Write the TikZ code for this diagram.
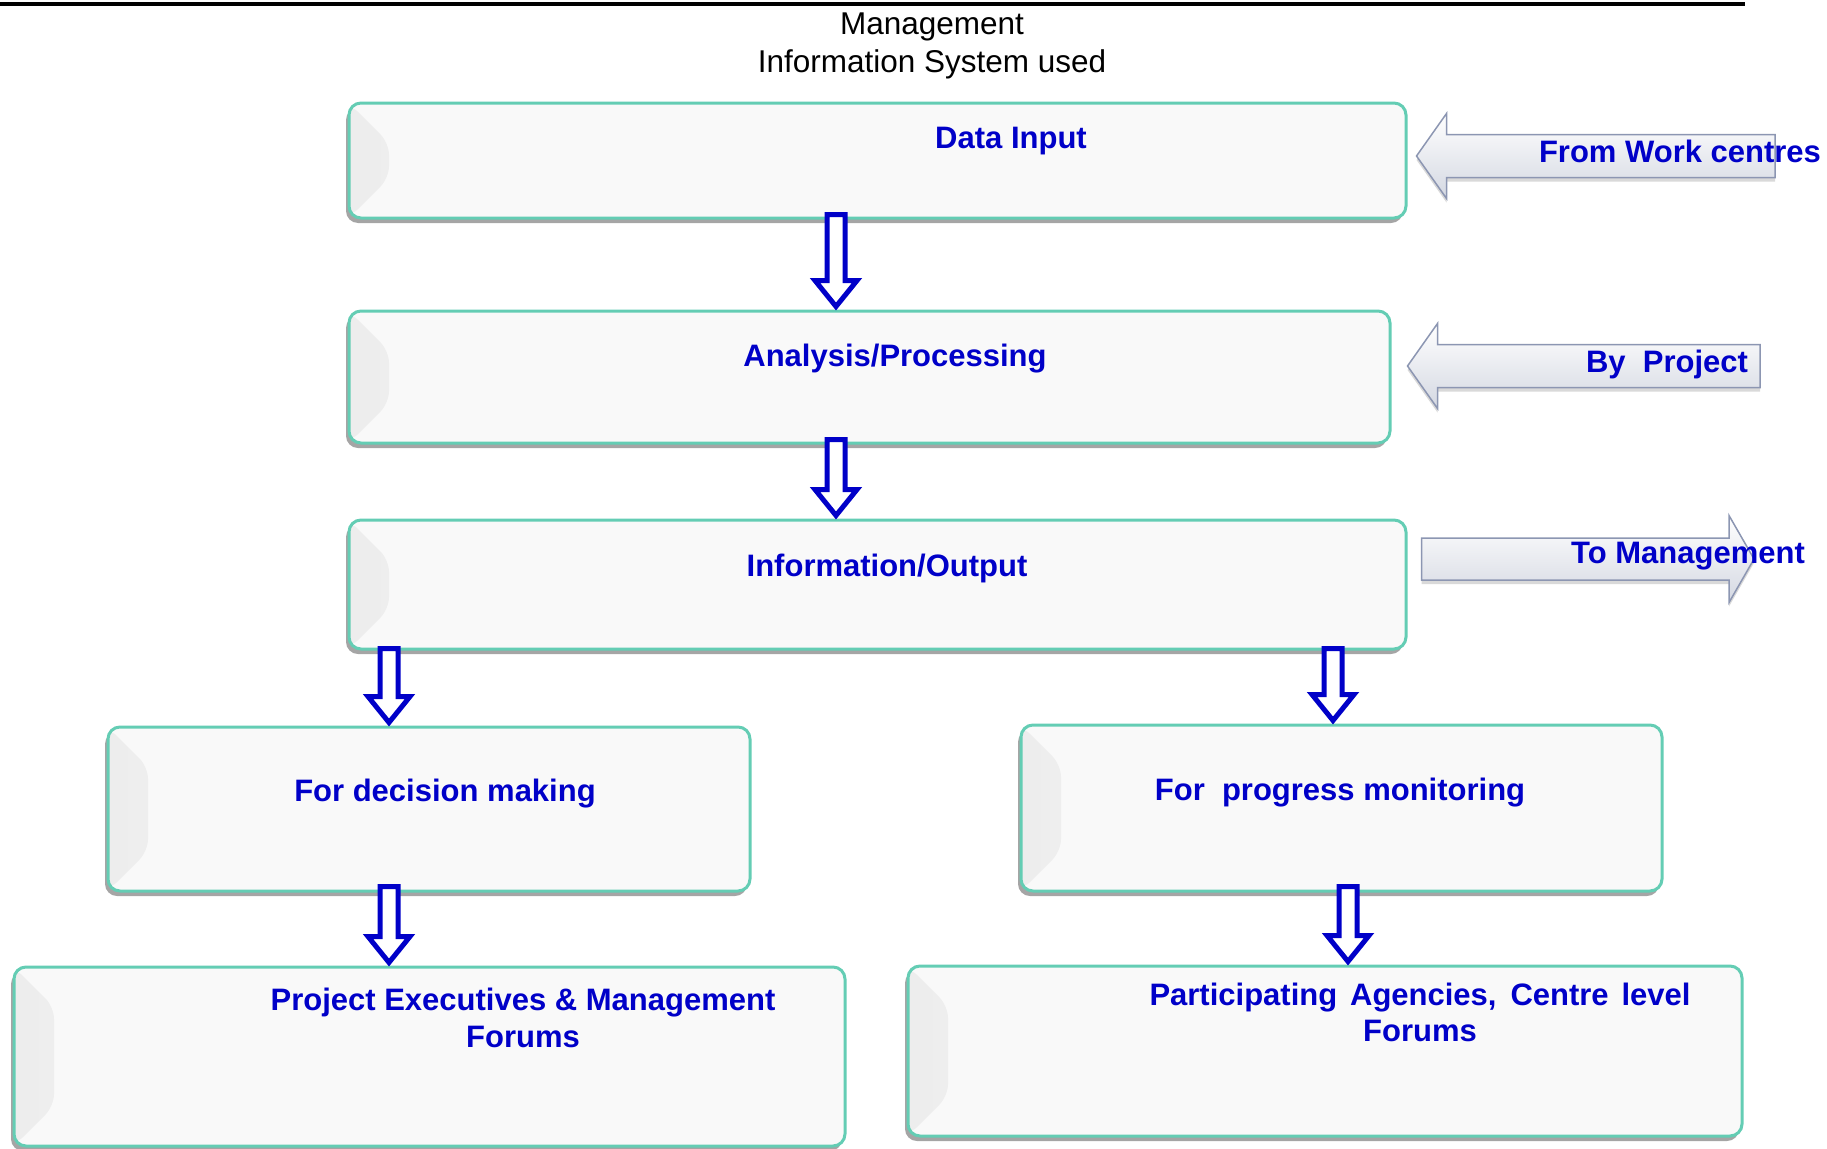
\documentclass[tikz,border=0pt]{standalone}
\usepackage{fontspec}
\setmainfont{Liberation Sans}
\usetikzlibrary{calc}
\usetikzlibrary{shadows}

\begin{document}
\begin{tikzpicture}[x=1pt,y=-1pt,
    box/.style={
      rounded corners=12pt,
      draw=tgreen,
      line width=3pt,
      fill=boxfill,
      inner sep=0pt,
      drop shadow={shadow xshift=-3pt,shadow yshift=-5pt,opacity=.5,fill=black!70},
      path picture={\shade[left color=black!7,right color=boxfill] (path picture bounding box.south west) -- (path picture bounding box.north west) -- ([xshift=40pt,yshift=-40pt]path picture bounding box.north west) -- ([xshift=40pt,yshift=40pt]path picture bounding box.south west) -- cycle;}
    },
    lbl/.style={text=mblue,font=\fontsize{31}{37}\selectfont\bfseries,inner sep=0pt,anchor=base},
    down/.style={draw=mblue,line width=5pt,fill=white,
      to path={($(\tikztostart)+(-9,0)$) -- ($(\tikztotarget)+(-9,-26)$) -- ($(\tikztotarget)+(-21,-26)$) -- (\tikztotarget) -- ($(\tikztotarget)+(21,-26)$) -- ($(\tikztotarget)+(9,-26)$) -- ($(\tikztostart)+(9,0)$) -- cycle}},
    side/.style={draw=sgray,line width=1.5pt,top color=white,bottom color=sfill,
      drop shadow={shadow xshift=0pt,shadow yshift=-4pt,opacity=.25,fill=black!60}},
    leftblock/.style={side,
      to path={($(\tikztostart)+(0,-21.5)$) -- ($(\tikztotarget)+(30,-21.5)$) -- ($(\tikztotarget)+(30,-42.5)$) -- (\tikztotarget) -- ($(\tikztotarget)+(30,42.5)$) -- ($(\tikztotarget)+(30,21.5)$) -- ($(\tikztostart)+(0,21.5)$) -- cycle}},
    rightblock/.style={side,
      to path={($(\tikztostart)+(0,-21)$) -- ($(\tikztotarget)+(-25,-21)$) -- ($(\tikztotarget)+(-25,-43.5)$) -- (\tikztotarget) -- ($(\tikztotarget)+(-25,43.5)$) -- ($(\tikztotarget)+(-25,21)$) -- ($(\tikztostart)+(0,21)$) -- cycle}}
  ]

\definecolor{mblue}{RGB}{0,0,200}
\definecolor{tgreen}{RGB}{100,205,180}
\definecolor{boxfill}{RGB}{249,249,249}
\definecolor{sgray}{RGB}{140,150,178}
\definecolor{sfill}{RGB}{212,216,226}

\useasboundingbox (0,0) rectangle (1827,1148);

\draw[line width=3.5pt] (0,4) -- (1745,4);
\node[font=\fontsize{31.5}{38}\selectfont,align=center,inner sep=0pt] (title) at (932,46) {Management\\Information System used};

\node[box,minimum width=1057pt,minimum height=115pt] (din) at (877.5,160.5) {};
\node[box,minimum width=1041pt,minimum height=132pt] (ana) at (869.5,377) {};
\node[box,minimum width=1057pt,minimum height=129pt] (iout) at (877.5,584.5) {};
\node[box,minimum width=642pt,minimum height=164pt] (dec) at (429,809) {};
\node[box,minimum width=641pt,minimum height=166pt] (mon) at (1341.5,808) {};
\node[box,minimum width=831pt,minimum height=179pt] (pex) at (429.5,1056.5) {};
\node[box,minimum width=834pt,minimum height=170pt] (pag) at (1325,1051) {};

\node[lbl] (dinT) at (1011,148) {Data Input};
\node[lbl] (anaT) at (895,366) {Analysis/Processing};
\node[lbl] (ioutT) at (887,576) {Information/Output};
\node[lbl] (decT) at (445,801) {For decision making};
\node[lbl] (monT) at (1340,800) {For\ \ progress monitoring};
\node[lbl,anchor=center,align=center] (pexT) at (523,1018) {Project Executives \& Management\\Forums};
\node[lbl,anchor=center,align=center,font=\fontsize{31}{36}\selectfont\bfseries] (pagT) at (1420,1012) {\makebox[541pt][s]{Participating Agencies, Centre level}\\Forums};

\draw[down] ([xshift=-41.5pt,yshift=5pt]din.south) to ([xshift=-33.5pt,yshift=3pt]ana.north);
\draw[down] ([xshift=-33.5pt,yshift=5pt]ana.south) to ([xshift=-41.5pt,yshift=3pt]iout.north);
\draw[down] ([xshift=-488.5pt,yshift=2pt]iout.south) to ([xshift=-40pt,yshift=3pt]dec.north);
\draw[down] ([xshift=455.5pt,yshift=2pt]iout.south) to ([xshift=-8.5pt,yshift=3pt]mon.north);
\draw[down] ([xshift=-40pt,yshift=6pt]dec.south) to ([xshift=-40.5pt,yshift=3pt]pex.north);
\draw[down] ([xshift=6.5pt,yshift=6pt]mon.south) to ([xshift=23pt,yshift=3pt]pag.north);

\coordinate (wcEnd) at (1775,156);
\coordinate (bpEnd) at (1760,366);
\coordinate (tmEnd) at (1754,559);
\draw[leftblock] (wcEnd) to ([xshift=9pt,yshift=4.5pt]din.east);
\draw[leftblock] (bpEnd) to ([xshift=16pt,yshift=11pt]ana.east);
\draw[rightblock] ([xshift=14pt,yshift=25.5pt]iout.east) to (tmEnd);

\node[lbl] (wcT) at (1680,162) {From Work centres};
\node[lbl] (bpT) at (1667,372) {By\ \ Project};
\node[lbl] (tmT) at (1688,563) {To Management};

\end{tikzpicture}
\end{document}
